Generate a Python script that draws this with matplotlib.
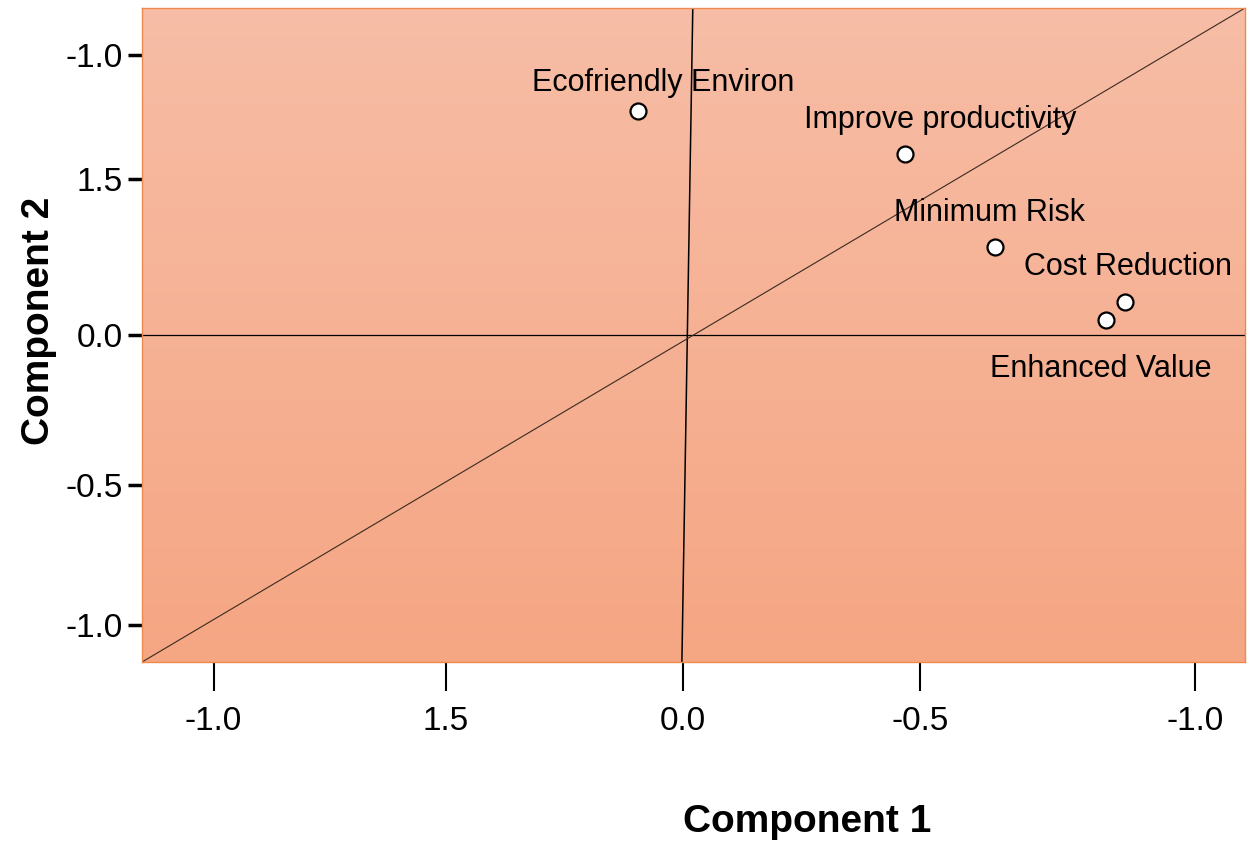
import numpy as np
import matplotlib.pyplot as plt

plt.rcParams['font.family'] = ['Liberation Sans', 'DejaVu Sans']

# component loadings
labels = ['Ecofriendly Environ', 'Improve productivity', 'Minimum Risk',
          'Cost Reduction', 'Enhanced Value']
comp1 = [-0.095, 0.468, 0.658, 0.932, 0.892]
comp2 = [0.718, 0.580, 0.282, 0.106, 0.048]

# tick labels as printed on the original
xtick_pos = [-0.99, -0.50, 0.0, 0.50, 1.08]
xtick_text = ['-1.0', '1.5', '0.0', '-0.5', '-1.0']
ytick_pos = [0.897, 0.50, 0.0, -0.48, -0.93]
ytick_text = ['-1.0', '1.5', '0.0', '-0.5', '-1.0']

xlim = (-1.141, 1.186)
ylim = (-1.048, 1.048)

# label offsets in pixels (dx, dy)
offsets = [(25, 28), (36, 34), (-5, 34), (3, 35), (-5, -49)]

fig = plt.figure(figsize=(12.5, 8.44), dpi=100)
ax = fig.add_axes([0.1136, 0.2156, 0.8824, 0.7749])

# gradient background
grad = np.linspace(0, 1, 256).reshape(-1, 1)
top = np.array([247, 189, 166]) / 255
bot = np.array([245, 166, 131]) / 255
img = top + (bot - top) * grad[:, :, None]
ax.imshow(img, extent=[xlim[0], xlim[1], ylim[0], ylim[1]], aspect='auto',
          origin='upper', zorder=0)

# reference lines
ax.plot(xlim, [0, 0], color='black', lw=0.9, zorder=1)
ax.plot([0.021, -0.002], [ylim[1], ylim[0]], color='black', lw=1.1, zorder=1)
ax.plot([xlim[0], xlim[1]], [ylim[0], ylim[1]], color='#3a2a20', lw=0.8, zorder=1)

ax.plot(comp1, comp2, 'o', ms=11.5, mfc='white', mec='black', mew=1.6, zorder=3)

for lab, x, y, (dx, dy) in zip(labels, comp1, comp2, offsets):
    ax.annotate(lab, (x, y), xytext=(dx, dy), textcoords='offset pixels',
                ha='center', va='center', fontsize=22, color='black', zorder=4)

ax.set_xlim(xlim)
ax.set_ylim(ylim)

ax.set_xticks(xtick_pos)
ax.set_xticklabels(xtick_text, fontsize=24)
ax.set_yticks(ytick_pos)
ax.set_yticklabels(ytick_text, fontsize=24)
ax.tick_params(axis='x', length=21, width=1.5, pad=11)
ax.tick_params(axis='y', length=10, width=2.5, pad=4)

for s in ax.spines.values():
    s.set_color('#EE8A4E')
    s.set_linewidth(1.0)

fig.text(0.646, 0.026, 'Component 1', fontsize=28, fontweight='bold',
         ha='center', va='center', transform=fig.transFigure,
         position=(0.646, 1 - 822 / 844))
fig.text(0.031, 0.62, 'Component 2', fontsize=28, fontweight='bold',
         ha='center', va='center', rotation=90)

fig.savefig('out.png', dpi=100)
